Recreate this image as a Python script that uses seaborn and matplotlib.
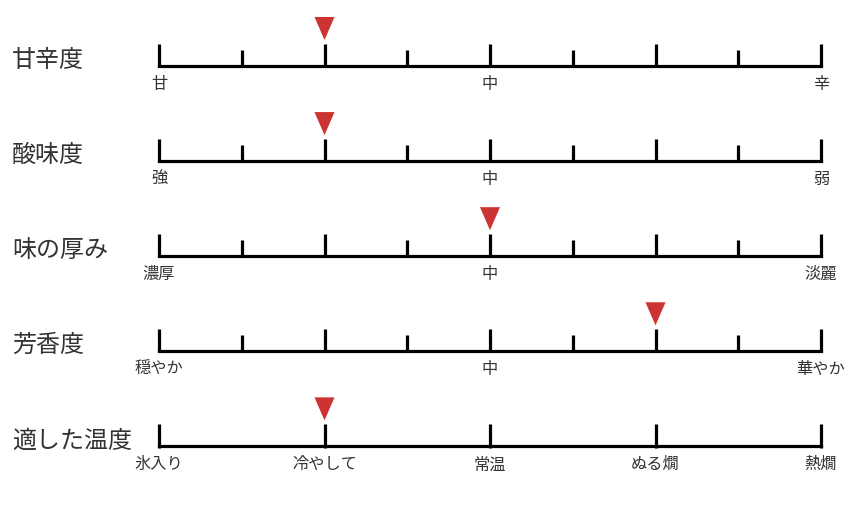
import numpy as np
import matplotlib
matplotlib.use("Agg")
import matplotlib.pyplot as plt
import seaborn as sns
import pandas as pd

# ---- data ----
row_titles = ["甘辛度", "酸味度", "味の厚み", "芳香度", "適した温度"]
steps = [8, 8, 8, 8, 4]
major_every = [2, 2, 2, 2, 1]
label_positions = [[0, 4, 8], [0, 4, 8], [0, 4, 8], [0, 4, 8], [0, 1, 2, 3, 4]]
tick_labels = [
    ["甘", "中", "辛"],
    ["強", "中", "弱"],
    ["濃厚", "中", "淡麗"],
    ["穏やか", "中", "華やか"],
    ["氷入り", "冷やして", "常温", "ぬる燗", "熱燗"],
]
marker_values = [2, 2, 4, 6, 1]

sns.set_theme(style="white")
plt.rcParams['font.family'] = ['Noto Sans CJK JP', 'DejaVu Sans']

W, H = 850, 506
fig = plt.figure(figsize=(W / 100, H / 100), dpi=100)
fig.patch.set_facecolor("white")

x0, x1 = 159, 821
line_y0 = 67
row_gap = 95.1
ax_h = 60
text_color = "#333333"
red = "#cc3333"
tri = [(-10, 11.5), (10, 11.5), (0, -11.5)]

for i, title in enumerate(row_titles):
    ly = line_y0 + row_gap * i
    ax = fig.add_axes([x0 / W, (H - ly) / H, (x1 - x0) / W, ax_h / H])
    ax.set_xlim(0, steps[i])
    ax.set_ylim(0, ax_h)
    for s in ax.spines.values():
        s.set_visible(False)
    ax.set_yticks([])
    ax.patch.set_alpha(0)

    pos = np.arange(steps[i] + 1)
    heights = np.where(pos % major_every[i] == 0, 22.5, 16.5)
    ax.hlines(0, 0, steps[i], color="black", lw=2.3, clip_on=False, capstyle="projecting")
    ax.vlines(pos, -1.2, heights, color="black", lw=2.3, clip_on=False)

    df = pd.DataFrame({"x": [marker_values[i]], "y": [37.5]})
    sns.scatterplot(data=df, x="x", y="y", ax=ax, marker=tri, s=16.6 ** 2,
                    color=red, edgecolor="none", linewidth=0, clip_on=False, legend=False)
    ax.set_xlabel("")
    ax.set_ylabel("")

    ax.set_xticks(label_positions[i])
    ax.set_xticklabels(tick_labels[i], fontsize=11.7, color=text_color)
    ax.tick_params(axis="x", length=0, pad=6.5)

    fig.text(12 / W, (H - ly + 7) / H, title, fontsize=17.3, color=text_color,
             ha="left", va="center")

fig.savefig("out.png", dpi=100, facecolor="white")
